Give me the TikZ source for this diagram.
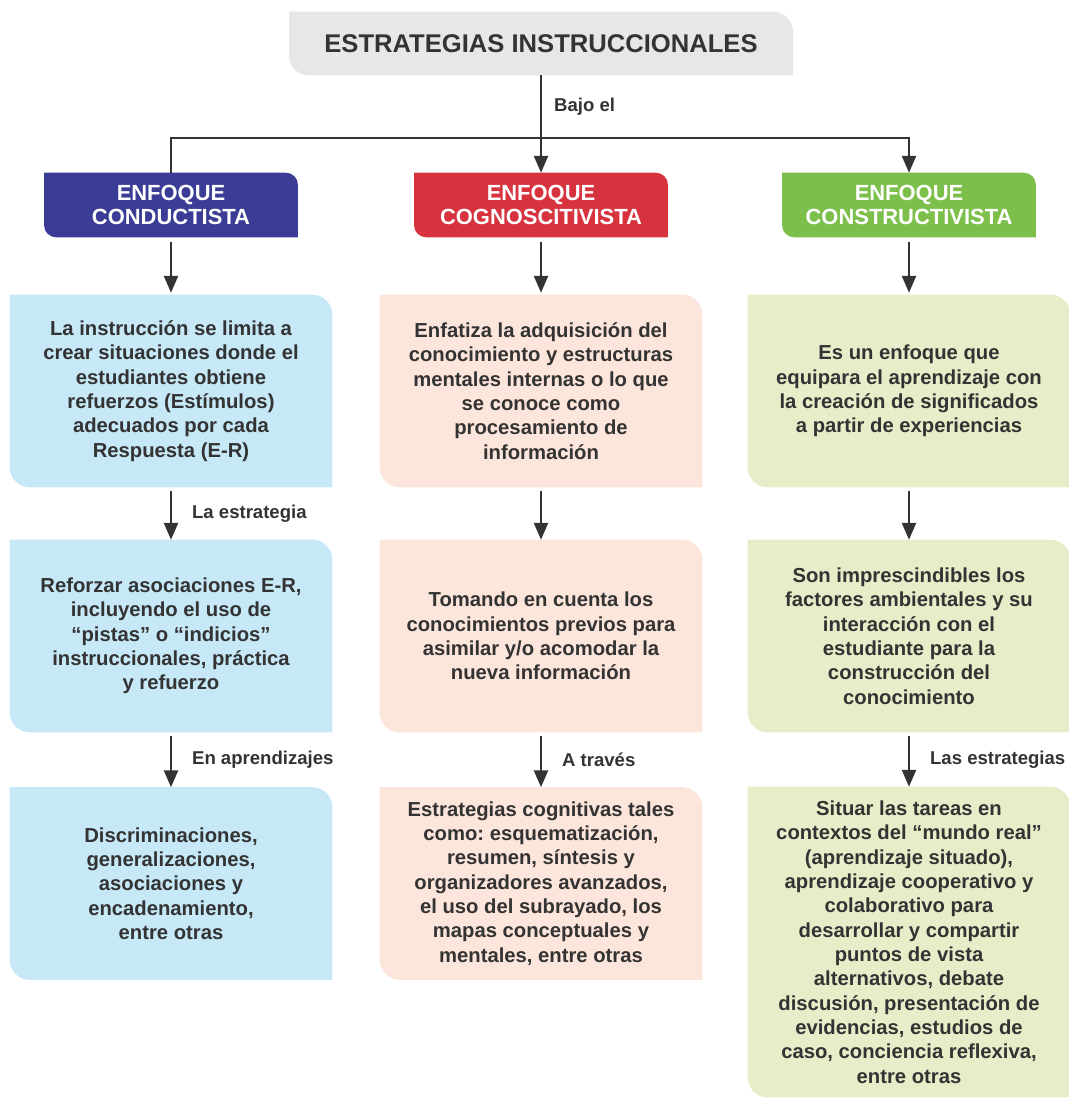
\documentclass[tikz,border=0pt]{standalone}
\usepackage{fontspec}
\setmainfont{Liberation Sans}
\usetikzlibrary{arrows.meta,backgrounds}
\frenchspacing

\definecolor{ink}{HTML}{333333}
\definecolor{titlegray}{HTML}{E6E7E8}
\definecolor{condblue}{HTML}{3A3C95}
\definecolor{cognred}{HTML}{D7333F}
\definecolor{consgreen}{HTML}{7CBF4B}
\definecolor{condlight}{HTML}{C6E8F7}
\definecolor{cognlight}{HTML}{FCE5DB}
\definecolor{conslight}{HTML}{E5EEC8}

% box with rounded top right and bottom left corners
\newcommand{\leaf}[3]{%
  \fill[#2] (#1.north west) -- ([xshift=-#3]#1.north east)
    arc[start angle=90,end angle=0,radius=#3] -- (#1.south east)
    -- ([xshift=#3]#1.south west) arc[start angle=270,end angle=180,radius=#3] -- cycle;}

\tikzset{
  title/.style={font=\bfseries\fontsize{18.2}{20}\selectfont,text=ink,inner sep=0pt,
    minimum width=12.58cm,minimum height=1.58cm},
  head/.style={font=\bfseries\fontsize{15.6}{17.7}\selectfont,text=white,align=center,
    inner sep=0pt,minimum width=6.33cm,minimum height=1.6cm},
  body/.style={font=\bfseries\fontsize{14.4}{17.3}\selectfont,text=ink,align=center,
    inner sep=0pt,minimum width=8.05cm,minimum height=4.8cm},
  lbl/.style={font=\bfseries\fontsize{13.2}{15}\selectfont,text=ink,anchor=west,inner sep=0pt},
  plain/.style={draw=ink,line width=1.6pt},
  flow/.style={plain,-{Triangle[length=12pt,width=10pt]}},
}

\begin{document}
\begin{tikzpicture}[x=0.025cm,y=-0.025cm]
\useasboundingbox (0,0) rectangle (1068,1104);

\node[title] (title) at (541,43.5) {ESTRATEGIAS INSTRUCCIONALES};

\node[head] (cond) at (171,205) {ENFOQUE\\CONDUCTISTA};
\node[head] (cogn) at (541,205) {ENFOQUE\\COGNOSCITIVISTA};
\node[head] (cons) at (909,205) {ENFOQUE\\CONSTRUCTIVISTA};

\node[body] (condA) at (171,391) {La instrucción se limita a\\crear situaciones donde el\\estudiantes obtiene\\refuerzos (Estímulos)\\adecuados por cada\\Respuesta (E-R)};
\node[body] (cognA) at (541,391) {Enfatiza la adquisición del\\conocimiento y estructuras\\mentales internas o lo que\\se conoce como\\procesamiento de\\información};
\node[body] (consA) at (909,391) {Es un enfoque que\\equipara el aprendizaje con\\la creación de significados\\a partir de experiencias};

\node[body] (condB) at (171,636) {Reforzar asociaciones E-R,\\incluyendo el uso de\\“pistas” o “indicios”\\instruccionales, práctica\\y refuerzo};
\node[body] (cognB) at (541,636) {Tomando en cuenta los\\conocimientos previos para\\asimilar y/o acomodar la\\nueva información};
\node[body] (consB) at (909,636) {Son imprescindibles los\\factores ambientales y su\\interacción con el\\estudiante para la\\construcción del\\conocimiento};

\node[body] (condC) at (171,883.5) {Discriminaciones,\\generalizaciones,\\asociaciones y\\encadenamiento,\\entre otras};
\node[body] (cognC) at (541,883.5) {Estrategias cognitivas tales\\como: esquematización,\\resumen, síntesis y\\organizadores avanzados,\\el uso del subrayado, los\\mapas conceptuales y\\mentales, entre otras};
\node[body,minimum height=7.75cm] (consC) at (909,942) {Situar las tareas en\\contextos del “mundo real”\\(aprendizaje situado),\\aprendizaje cooperativo y\\colaborativo para\\desarrollar y compartir\\puntos de vista\\alternativos, debate\\discusión, presentación de\\evidencias, estudios de\\caso, conciencia reflexiva,\\entre otras};

\begin{scope}[on background layer]
\leaf{title}{titlegray}{0.5cm}
\leaf{cond}{condblue}{0.3cm}
\leaf{cogn}{cognred}{0.3cm}
\leaf{cons}{consgreen}{0.3cm}
\foreach \r in {A,B,C}{
  \leaf{cond\r}{condlight}{0.5cm}
  \leaf{cogn\r}{cognlight}{0.5cm}
  \leaf{cons\r}{conslight}{0.5cm}
}
\end{scope}

\coordinate (bus) at (541,138);
\draw[flow] (title) -- node[lbl,pos=0.32,xshift=0.3cm] {Bajo el} (cogn);
\draw[plain] (cond.north) |- (bus);
\draw[flow] (bus) -| (cons.north);

\foreach \c in {cond,cogn,cons}{
  \draw[flow,shorten <=0.12cm,shorten >=0.05cm] (\c) -- (\c A);
}
\draw[flow,shorten <=0.08cm] (condA) -- node[lbl,xshift=0.5cm] {La estrategia} (condB);
\draw[flow,shorten <=0.08cm] (cognA) -- (cognB);
\draw[flow,shorten <=0.08cm] (consA) -- (consB);
\draw[flow,shorten <=0.08cm] (condB) -- node[lbl,xshift=0.5cm] {En aprendizajes} (condC);
\draw[flow,shorten <=0.08cm] (cognB) -- node[lbl,xshift=0.5cm] {A través} (cognC);
\draw[flow,shorten <=0.08cm] (consB) -- node[lbl,xshift=0.5cm] {Las estrategias} (consC);
\end{tikzpicture}
\end{document}
